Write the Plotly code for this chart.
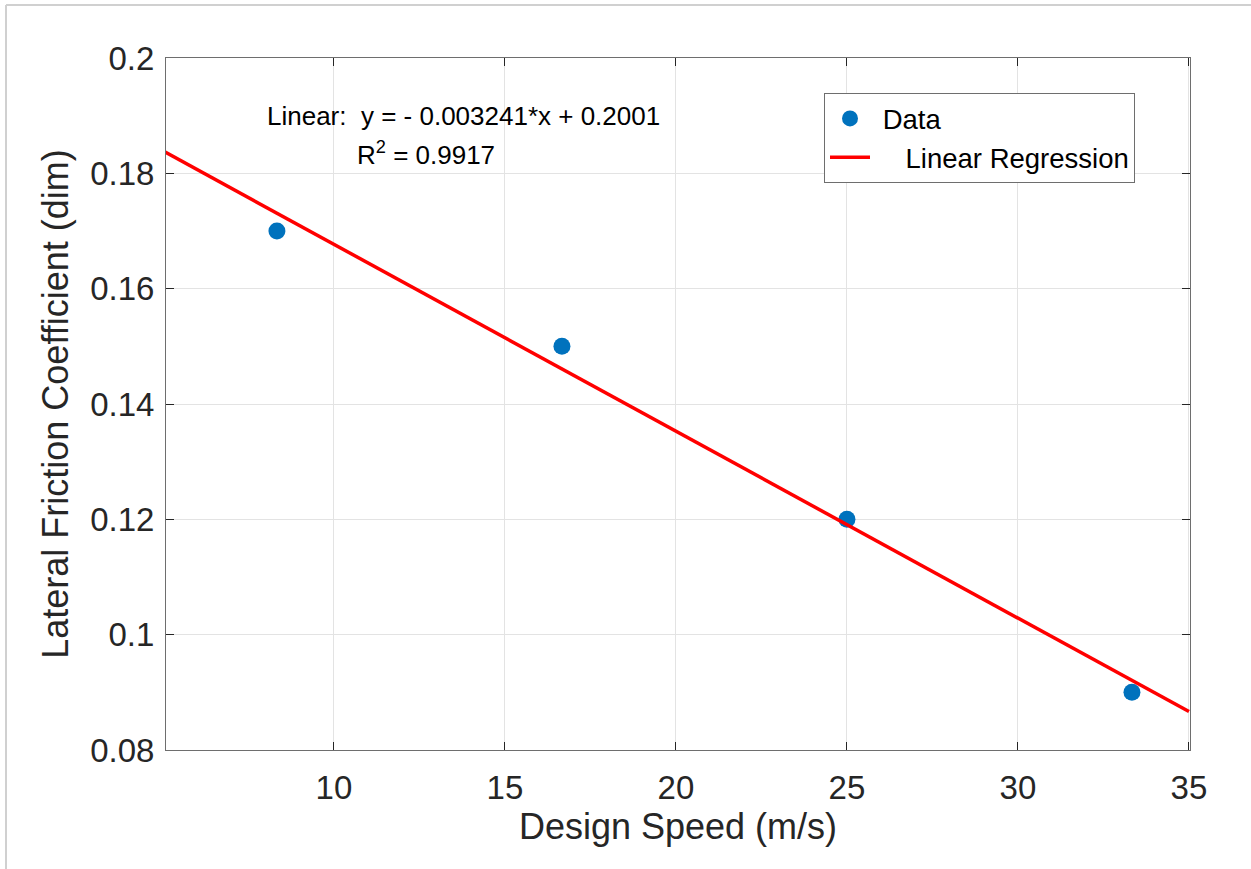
import plotly.graph_objects as go

# Data
speed = [8.333, 16.667, 25.0, 33.333]
friction = [0.17, 0.15, 0.12, 0.09]
slope = -0.003241
intercept = 0.2001
fit_x = [5.0, 35.0]
fit_y = [slope * v + intercept for v in fit_x]
x_ticks = [10, 15, 20, 25, 30, 35]
y_ticks = [0.08, 0.1, 0.12, 0.14, 0.16, 0.18, 0.2]
y_ticklabels = ["0.08", "0.1", "0.12", "0.14", "0.16", "0.18", "0.2"]

W, H = 1251, 869
L, R, T, B = 166, 1190, 58, 750

FONT = "Liberation Sans, Arial, Helvetica, sans-serif"
TXT = "#262626"

fig = go.Figure()
fig.add_trace(go.Scatter(
    x=speed, y=friction, mode="markers", name=" Data",
    marker=dict(color="#0072BD", size=17, line=dict(width=0)),
))
fig.add_trace(go.Scatter(
    x=fit_x, y=fit_y, mode="lines", name="    Linear Regression",
    line=dict(color="#FF0000", width=3.5),
))

axis_common = dict(
    showline=True, linecolor="#6e6e6e", linewidth=1, mirror="ticks",
    ticks="inside", ticklen=8, tickcolor="#262626", tickwidth=1,
    showgrid=True, gridcolor="#e3e3e3", gridwidth=1,
    zeroline=False, tickfont=dict(family=FONT, size=33, color=TXT),
)

fig.update_layout(
    width=W, height=H,
    margin=dict(l=L, r=W - R, t=T, b=H - B),
    plot_bgcolor="white", paper_bgcolor="white",
    font=dict(family=FONT, color=TXT),
    xaxis=dict(range=[5.09, 35.03], tickvals=x_ticks, ticklabelstandoff=8,
               title=dict(text="Design Speed (m/s)", font=dict(family=FONT, size=36, color=TXT), standoff=8),
               **axis_common),
    yaxis=dict(range=[0.08, 0.2], tickvals=y_ticks, ticktext=y_ticklabels, ticklabelstandoff=4,
               title=dict(text="Lateral Friction Coefficient (dim)", font=dict(family=FONT, size=36, color=TXT), standoff=10),
               **axis_common),
    legend=dict(
        x=(824 - L) / (R - L), y=(B - 93) / (B - T), xanchor="left", yanchor="top",
        bgcolor="white", bordercolor="#6e6e6e", borderwidth=1,
        font=dict(family=FONT, size=27.5, color="black"),
        itemwidth=40, tracegroupgap=0,
    ),
    showlegend=True,
)

px = lambda v: (v - L) / (R - L)
py = lambda v: (B - v) / (B - T)

fig.add_annotation(
    x=px(265), y=py(116), xref="paper", yref="paper",
    xanchor="left", yanchor="middle", showarrow=False, align="left",
    text="Linear:  y = - 0.003241*x + 0.2001",
    font=dict(family=FONT, size=26, color="black"),
)
fig.add_annotation(
    x=px(355), y=py(153), xref="paper", yref="paper",
    xanchor="left", yanchor="middle", showarrow=False, align="left",
    text="R<sup>2</sup> = 0.9917",
    font=dict(family=FONT, size=26, color="black"),
)

# screenshot frame lines (top and left)
fig.add_shape(type="line", xref="paper", yref="paper",
              x0=px(6), x1=px(1251), y0=py(5), y1=py(5),
              line=dict(color="#d0d0d0", width=2))
fig.add_shape(type="line", xref="paper", yref="paper",
              x0=px(6), x1=px(6), y0=py(5), y1=py(869),
              line=dict(color="#d0d0d0", width=2))

fig.write_html("out.html", config={"displayModeBar": False},
               post_script="document.body.style.margin='0';")
